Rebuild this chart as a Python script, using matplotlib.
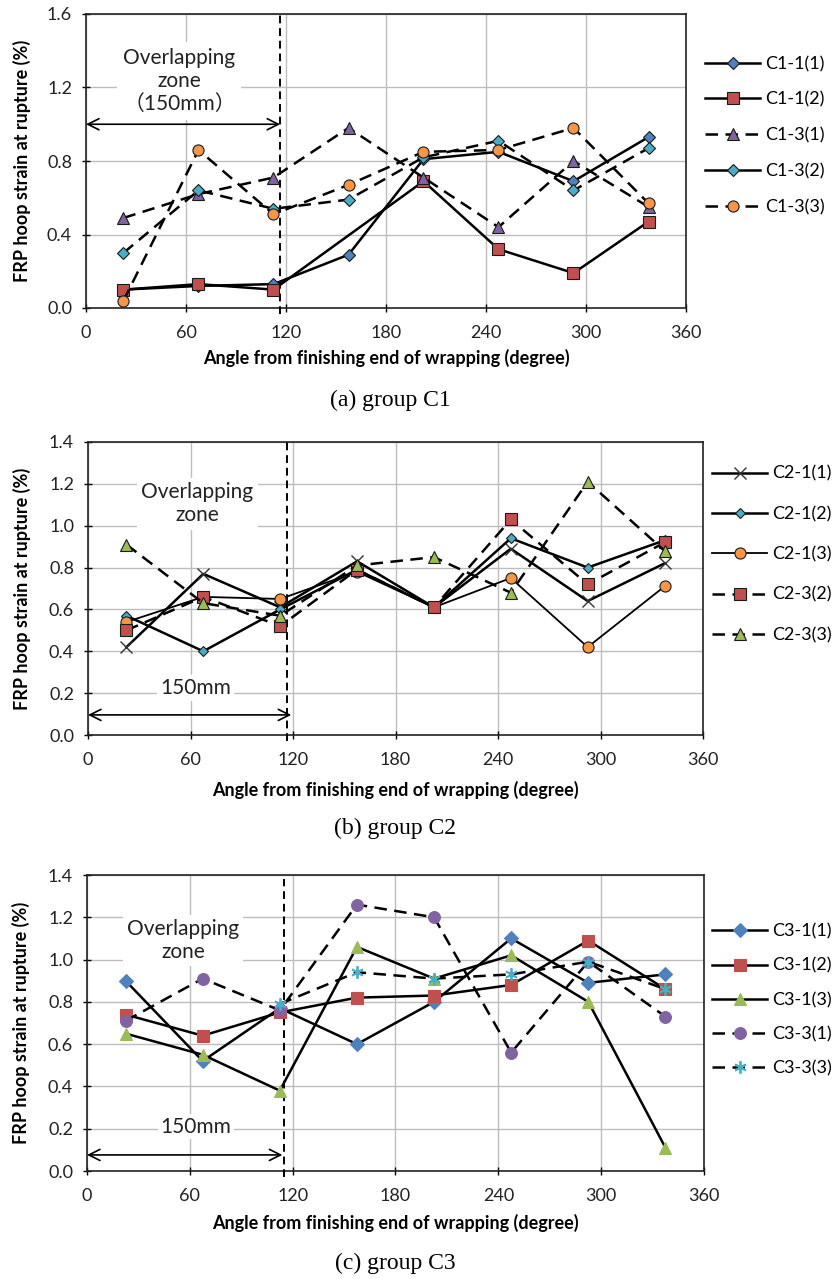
import matplotlib
matplotlib.use('Agg')
import matplotlib.pyplot as plt
import numpy as np
from matplotlib.lines import Line2D

plt.rcParams['font.family'] = ['Lato', 'DejaVu Sans']

# measuring positions (degree) - same for all groups
angles = [22.5, 67.5, 112.5, 157.5, 202.5, 247.5, 292.5, 337.5]
x_ticks = [0, 60, 120, 180, 240, 300, 360]
nan = np.nan

# group C1
c1_labels = ['C1-1(1)', 'C1-1(2)', 'C1-3(1)', 'C1-3(2)', 'C1-3(3)']
c1_1_1 = [0.10, 0.12, 0.13, 0.29, 0.81, 0.85, 0.69, 0.93]
c1_1_2 = [0.10, 0.13, 0.10, nan, 0.69, 0.32, 0.19, 0.47]
c1_3_1 = [0.49, 0.62, 0.71, 0.98, 0.71, 0.44, 0.80, 0.55]
c1_3_2 = [0.30, 0.64, 0.54, 0.59, 0.82, 0.91, 0.64, 0.87]
c1_3_3 = [0.04, 0.86, 0.51, 0.67, 0.85, 0.86, 0.98, 0.57]

# group C2
c2_labels = ['C2-1(1)', 'C2-1(2)', 'C2-1(3)', 'C2-3(2)', 'C2-3(3)']
c2_1_1 = [0.42, 0.77, 0.61, 0.83, 0.61, 0.89, 0.64, 0.82]
c2_1_2 = [0.57, 0.40, 0.60, 0.79, 0.61, 0.94, 0.80, 0.93]
c2_1_3 = [0.54, 0.66, 0.65, 0.78, 0.61, 0.75, 0.42, 0.71]
c2_3_2 = [0.50, 0.66, 0.52, 0.79, 0.61, 1.03, 0.72, 0.92]
c2_3_3 = [0.91, 0.63, 0.57, 0.81, 0.85, 0.68, 1.21, 0.88]

# group C3
c3_labels = ['C3-1(1)', 'C3-1(2)', 'C3-1(3)', 'C3-3(1)', 'C3-3(3)']
c3_1_1 = [0.90, 0.52, 0.77, 0.60, 0.80, 1.10, 0.89, 0.93]
c3_1_2 = [0.74, 0.64, 0.75, 0.82, 0.83, 0.88, 1.09, 0.86]
c3_1_3 = [0.65, 0.55, 0.38, 1.06, 0.91, 1.02, 0.80, 0.11]
c3_3_1 = [0.71, 0.91, 0.76, 1.26, 1.20, 0.56, 0.99, 0.73]
c3_3_3 = [nan, nan, 0.79, 0.94, 0.91, 0.93, 0.99, 0.86]

BLUE = '#4F81BD'
RED = '#C0504D'
GREEN = '#9BBB59'
PURPLE = '#8064A2'
TEAL = '#4BACC6'
ORANGE = '#F79646'
EDGE = '#1a1a1a'
DASH = (0, (5, 3))

W, H = 837, 1279
fig = plt.figure(figsize=(W / 100, H / 100), dpi=100)


def px_axes(l, t, r, b):
    return fig.add_axes([l / W, 1 - b / H, (r - l) / W, (b - t) / H])


def curve(ax, y, fc, marker, ms, ls='-', lw=1.8, mec=EDGE, mew=0.8):
    x = np.array(angles)
    y = np.array(y, dtype=float)
    ok = ~np.isnan(y)
    line, = ax.plot(x[ok], y[ok], color='black', lw=lw, ls=ls, marker=marker,
                    ms=ms, mfc=fc, mec=mec, mew=mew, zorder=3, clip_on=False)
    return line


def setup(ax, ymax, ystep, xlab_off):
    ax.set_xlim(0, 360)
    ax.set_ylim(0, ymax)
    ax.set_xticks(x_ticks)
    ax.set_yticks(np.arange(0, ymax + 0.001, ystep))
    ax.yaxis.set_major_formatter(matplotlib.ticker.FormatStrFormatter('%.1f'))
    ax.grid(True, color='#bdbdbd', lw=1.0)
    ax.set_axisbelow(True)
    for s in ax.spines.values():
        s.set_linewidth(1.2)
        s.set_color('#222222')
    ax.tick_params(direction='inout', length=6, width=1, labelsize=13,
                   labelcolor='#222222')
    ax.tick_params(axis='x', pad=9)
    ax.tick_params(axis='y', pad=7)
    ax.set_xlabel('Angle from finishing end of wrapping (degree)',
                  fontsize=13, fontweight='bold')
    ax.xaxis.set_label_coords(0.5, xlab_off)
    ax.xaxis.label.set_va('center')
    ax.set_ylabel('FRP hoop strain at rupture (%)', fontsize=13, fontweight='bold')
    ax.yaxis.set_label_coords(-0.107, 0.5)
    ax.yaxis.label.set_va('center')


def zone(ax, xline, yarrow, xarrow, ymin=-0.02, ymax=1.0):
    ax.axvline(xline, ymin=ymin, ymax=ymax, color='black', lw=1.4,
               ls=(0, (4, 2.5)), clip_on=False, zorder=2.8)
    ax.annotate('', xy=(0, yarrow), xytext=(xarrow, yarrow),
                arrowprops=dict(arrowstyle='<->', lw=1.2, color='black',
                                mutation_scale=20, shrinkA=0, shrinkB=0),
                zorder=4)


def legend(ax, handles, labels, ymid, spacing, xleft=705):
    ax.legend(handles, labels, loc='center left',
              bbox_to_anchor=(xleft / W, 1 - ymid / H),
              bbox_transform=fig.transFigure, frameon=False, fontsize=13,
              handlelength=3.05, handletextpad=0.3, labelspacing=spacing,
              borderpad=0, borderaxespad=0)


# ---------------- (a) group C1 ----------------
ax1 = px_axes(86, 14, 686, 308)
setup(ax1, 1.6, 0.4, -0.170)
l1 = curve(ax1, c1_1_1, BLUE, 'D', 6)
l2 = curve(ax1, c1_1_2, RED, 's', 8)
l3 = curve(ax1, c1_3_1, PURPLE, '^', 8, ls=DASH)
curve(ax1, c1_3_2, TEAL, 'D', 6, ls=DASH)
l5 = curve(ax1, c1_3_3, ORANGE, 'o', 8, ls=DASH)
l4 = Line2D([], [], color='black', lw=1.8, marker='D', ms=6, mfc=TEAL,
            mec=EDGE, mew=0.8)
zone(ax1, 116.5, 1.0, 116.5)
ax1.text(56, 1.235, 'Overlapping\nzone\n（150mm）', ha='center', va='center',
         fontsize=15, linespacing=1.2, family=['Lato', 'Noto Sans CJK SC'],
         color='#222222', zorder=2.5,
         bbox=dict(fc='white', ec='none', pad=4))
legend(ax1, [l1, l2, l3, l4, l5], c1_labels, 135.5, 1.09)
fig.text(390 / W, 1 - 400 / H, '(a) group C1', family='Liberation Serif',
         fontsize=17, ha='center', va='center')

# ---------------- (b) group C2 ----------------
ax2 = px_axes(88, 442, 703, 735)
setup(ax2, 1.4, 0.2, -0.188)
m1 = curve(ax2, c2_1_1, '#333333', 'x', 9, mec='#333333', mew=1.0)
m2 = curve(ax2, c2_1_2, TEAL, 'D', 5.5)
m3 = curve(ax2, c2_1_3, ORANGE, 'o', 8, lw=1.3)
m4 = curve(ax2, c2_3_2, RED, 's', 8.5, ls=DASH)
m5 = curve(ax2, c2_3_3, GREEN, '^', 8, ls=DASH)
zone(ax2, 116.5, 0.096, 119)
ax2.text(64, 1.105, 'Overlapping\nzone', ha='center', va='center',
         fontsize=15, linespacing=1.2, color='#222222', zorder=2.5,
         bbox=dict(fc='white', ec='none', pad=3))
ax2.text(63, 0.225, '150mm', ha='center', va='center', fontsize=15,
         color='#222222', zorder=2.5, bbox=dict(fc='white', ec='none', pad=2))
legend(ax2, [m1, m2, m3, m4, m5], c2_labels, 554.5, 1.34, xleft=712)
fig.text(395 / W, 1 - 828 / H, '(b) group C2', family='Liberation Serif',
         fontsize=17, ha='center', va='center')

# ---------------- (c) group C3 ----------------
ax3 = px_axes(87, 875, 704, 1171)
setup(ax3, 1.4, 0.2, -0.176)
n1 = curve(ax3, c3_1_1, BLUE, 'D', 7.5, mec=BLUE)
n2 = curve(ax3, c3_1_2, RED, 's', 8.5, mec=RED)
n3 = curve(ax3, c3_1_3, GREEN, '^', 8.5, mec=GREEN)
n4 = curve(ax3, c3_3_1, PURPLE, 'o', 8.5, ls=DASH, mec=PURPLE)
n5 = curve(ax3, c3_3_3, TEAL, (6, 2, 0), 9, ls=DASH, mec=TEAL, mew=1.3)
zone(ax3, 115, 0.076, 114, ymax=0.985)
ax3.text(56, 1.09, 'Overlapping\nzone', ha='center', va='center',
         fontsize=15, linespacing=1.2, color='#222222', zorder=2.5,
         bbox=dict(fc='white', ec='none', pad=3))
ax3.text(63.5, 0.21, '150mm', ha='center', va='center', fontsize=15,
         color='#222222', zorder=2.5, bbox=dict(fc='white', ec='none', pad=2))
legend(ax3, [n1, n2, n3, n4, n5], c3_labels, 1000, 1.0, xleft=712)
fig.text(395 / W, 1 - 1263 / H, '(c) group C3', family='Liberation Serif',
         fontsize=17, ha='center', va='center')

fig.savefig('out.png', dpi=100)
